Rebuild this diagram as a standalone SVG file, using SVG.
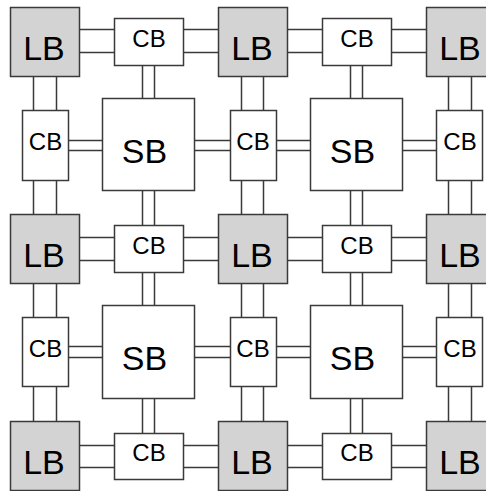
<svg xmlns="http://www.w3.org/2000/svg" width="486" height="491" viewBox="0 0 486 491">
<style>
.lb{fill:#d3d3d3;stroke:#3a3a3a;stroke-width:1.5}
.cb,.sb{fill:#ffffff;stroke:#3a3a3a;stroke-width:1.5}
.w{stroke:#3a3a3a;stroke-width:1.5;fill:none}
text{font-family:"Liberation Sans",Arial,sans-serif;fill:#000;text-anchor:middle}
.big{font-size:34px}
.small{font-size:24px}
</style>
<rect width="486" height="491" fill="#ffffff"/>
<g id="connectors" class="w">
<path d="M79.5 29.5H114.5M79.5 52.5H114.5M183.5 29.5H218.5M183.5 52.5H218.5M287.5 29.5H322.5M287.5 52.5H322.5M391.5 29.5H426.5M391.5 52.5H426.5"/>
<path d="M79.5 237.5H114.5M79.5 260.5H114.5M183.5 237.5H218.5M183.5 260.5H218.5M287.5 237.5H322.5M287.5 260.5H322.5M391.5 237.5H426.5M391.5 260.5H426.5"/>
<path d="M79.5 445.5H114.5M79.5 467.5H114.5M183.5 445.5H218.5M183.5 467.5H218.5M287.5 445.5H322.5M287.5 467.5H322.5M391.5 445.5H426.5M391.5 467.5H426.5"/>
<path d="M33.5 76.5V110.5M56.5 76.5V110.5M33.5 180.5V214.5M56.5 180.5V214.5M33.5 283.5V317.5M56.5 283.5V317.5M33.5 386.5V421.5M56.5 386.5V421.5"/>
<path d="M241.5 76.5V110.5M263.5 76.5V110.5M241.5 180.5V214.5M263.5 180.5V214.5M241.5 283.5V317.5M263.5 283.5V317.5M241.5 386.5V421.5M263.5 386.5V421.5"/>
<path d="M448.5 76.5V110.5M471.5 76.5V110.5M448.5 180.5V214.5M471.5 180.5V214.5M448.5 283.5V317.5M471.5 283.5V317.5M448.5 386.5V421.5M471.5 386.5V421.5"/>
<path d="M142.5 65.5V98.5M154.5 65.5V98.5M142.5 190.5V225.5M154.5 190.5V225.5M142.5 272.5V305.5M154.5 272.5V305.5M142.5 398.5V433.5M154.5 398.5V433.5"/>
<path d="M350.5 65.5V98.5M362.5 65.5V98.5M350.5 190.5V225.5M362.5 190.5V225.5M350.5 272.5V305.5M362.5 272.5V305.5M350.5 398.5V433.5M362.5 398.5V433.5"/>
<path d="M68.5 140.5H102.5M68.5 150.5H102.5M194.5 140.5H230.5M194.5 150.5H230.5M276.5 140.5H310.5M276.5 150.5H310.5M402.5 140.5H436.5M402.5 150.5H436.5"/>
<path d="M68.5 346.5H102.5M68.5 357.5H102.5M194.5 346.5H230.5M194.5 357.5H230.5M276.5 346.5H310.5M276.5 357.5H310.5M402.5 346.5H436.5M402.5 357.5H436.5"/>
</g>
<g id="lb00"><rect class="lb" x="10.5" y="7.5" width="69" height="69"/><text class="big" x="44" y="59.5">LB</text></g>
<g id="lb01"><rect class="lb" x="218.5" y="7.5" width="69" height="69"/><text class="big" x="252" y="59.5">LB</text></g>
<g id="lb02"><rect class="lb" x="426.5" y="7.5" width="69" height="69"/><text class="big" x="460" y="59.5">LB</text></g>
<g id="lb10"><rect class="lb" x="10.5" y="214.5" width="69" height="69"/><text class="big" x="44" y="266.5">LB</text></g>
<g id="lb11"><rect class="lb" x="218.5" y="214.5" width="69" height="69"/><text class="big" x="252" y="266.5">LB</text></g>
<g id="lb12"><rect class="lb" x="426.5" y="214.5" width="69" height="69"/><text class="big" x="460" y="266.5">LB</text></g>
<g id="lb20"><rect class="lb" x="10.5" y="421.5" width="69" height="69"/><text class="big" x="44" y="473.5">LB</text></g>
<g id="lb21"><rect class="lb" x="218.5" y="421.5" width="69" height="69"/><text class="big" x="252" y="473.5">LB</text></g>
<g id="lb22"><rect class="lb" x="426.5" y="421.5" width="69" height="69"/><text class="big" x="460" y="473.5">LB</text></g>
<g id="cbh00"><rect class="cb" x="114.5" y="18.5" width="69" height="47"/><text class="small" x="149" y="47">CB</text></g>
<g id="cbh01"><rect class="cb" x="322.5" y="18.5" width="69" height="47"/><text class="small" x="357" y="47">CB</text></g>
<g id="cbh10"><rect class="cb" x="114.5" y="225.5" width="69" height="47"/><text class="small" x="149" y="254">CB</text></g>
<g id="cbh11"><rect class="cb" x="322.5" y="225.5" width="69" height="47"/><text class="small" x="357" y="254">CB</text></g>
<g id="cbh20"><rect class="cb" x="114.5" y="433.5" width="69" height="46"/><text class="small" x="149" y="461">CB</text></g>
<g id="cbh21"><rect class="cb" x="322.5" y="433.5" width="69" height="46"/><text class="small" x="357" y="461">CB</text></g>
<g id="cbv00"><rect class="cb" x="22.5" y="110.5" width="46" height="70"/><text class="small" x="45.5" y="150">CB</text></g>
<g id="cbv01"><rect class="cb" x="230.5" y="110.5" width="46" height="70"/><text class="small" x="253" y="150">CB</text></g>
<g id="cbv02"><rect class="cb" x="436.5" y="110.5" width="46" height="70"/><text class="small" x="460" y="150">CB</text></g>
<g id="cbv10"><rect class="cb" x="22.5" y="317.5" width="46" height="69"/><text class="small" x="45.5" y="357">CB</text></g>
<g id="cbv11"><rect class="cb" x="230.5" y="317.5" width="46" height="69"/><text class="small" x="253" y="357">CB</text></g>
<g id="cbv12"><rect class="cb" x="436.5" y="317.5" width="46" height="69"/><text class="small" x="460" y="357">CB</text></g>
<g id="sb00"><rect class="sb" x="102.5" y="98.5" width="92" height="92"/><text class="big" x="144.5" y="162.5">SB</text></g>
<g id="sb01"><rect class="sb" x="310.5" y="98.5" width="92" height="92"/><text class="big" x="352.5" y="162.5">SB</text></g>
<g id="sb10"><rect class="sb" x="102.5" y="305.5" width="92" height="93"/><text class="big" x="144.5" y="370">SB</text></g>
<g id="sb11"><rect class="sb" x="310.5" y="305.5" width="92" height="93"/><text class="big" x="352.5" y="370">SB</text></g>
</svg>
